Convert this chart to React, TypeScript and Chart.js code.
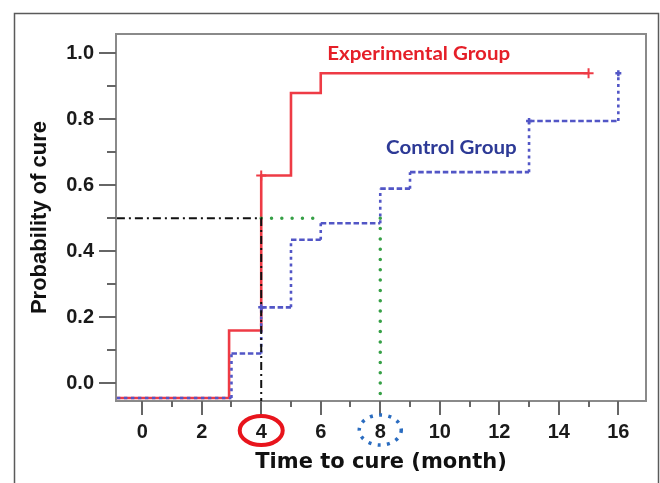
import React, { useEffect, useRef } from 'react';
import { Chart, registerables } from 'chart.js';

Chart.register(...registerables);

// ---- data ----
const experimentalTimes = [-0.85, 2.92, 4, 5, 6, 15];
const experimentalProb = [-0.045, 0.16, 0.63, 0.88, 0.94, 0.94];
const experimentalCensorTimes = [4, 15];
const experimentalCensorProb = [0.63, 0.94];

const controlTimes = [-0.85, 3, 4, 5, 6, 8, 9, 13, 16];
const controlProb = [-0.045, 0.09, 0.23, 0.435, 0.485, 0.59, 0.64, 0.795, 0.94];
const controlCensorTimes = [4, 13, 16];
const controlCensorProb = [0.23, 0.795, 0.94];

const medianLevel = 0.5;
const experimentalMedianTime = 4;
const controlMedianTime = 8;
const guideStartTime = -0.85;
const greenStubEnd = 5.8;

const xMin = -0.88;
const xMax = 16.93;
const yMin = -0.054;
const yMax = 1.059;

const xMajorTicks = [0, 2, 4, 6, 8, 10, 12, 14, 16];
const xMinorTicks = [1, 3, 5, 7, 9, 11, 13, 15];
const xTickLabels = ['0', '2', '4', '6', '8', '10', '12', '14', '16'];
const yMajorTicks = [0, 0.2, 0.4, 0.6, 0.8, 1.0];
const yMinorTicks = [0.1, 0.3, 0.5, 0.7, 0.9];
const yTickLabels = ['0.0', '0.2', '0.4', '0.6', '0.8', '1.0'];

const experimentalLabel = 'Experimental Group';
const controlLabel = 'Control Group';
const experimentalLabelAt = { x: 9.29, y: 0.999 };
const controlLabelAt = { x: 10.39, y: 0.713 };
const xTitle = 'Time to cure (month)';
const yTitle = 'Probability of cure';

// ---- helpers ----
function stepPoints(times: number[], probs: number[]) {
  const pts: { x: number; y: number | null }[] = [];
  for (let i = 0; i < times.length; i++) {
    pts.push({ x: times[i], y: probs[i] });
    if (i + 1 < times.length) pts.push({ x: times[i + 1], y: probs[i] });
  }
  return pts;
}

function pairs(xs: number[], ys: number[]) {
  return xs.map((x, i) => ({ x, y: ys[i] }));
}

const decorPlugin = {
  id: 'decor',
  beforeDatasetsDraw(chart: any) {
    const { ctx, chartArea } = chart;
    const { left, top, right, bottom } = chartArea;
    const xs = chart.scales.x;
    const ys = chart.scales.y;
    ctx.save();
    // outer frame
    ctx.strokeStyle = '#5a5a5a';
    ctx.lineWidth = 1.5;
    ctx.strokeRect(14.5, 13.5, 644, 520);
    // plot box
    ctx.strokeStyle = '#8a8a8a';
    ctx.lineWidth = 2;
    ctx.strokeRect(left, top, right - left, bottom - top);
    // ticks
    ctx.strokeStyle = '#666';
    ctx.lineWidth = 2;
    ctx.beginPath();
    yMajorTicks.forEach((v) => {
      const p = Math.round(ys.getPixelForValue(v));
      ctx.moveTo(left - 17, p);
      ctx.lineTo(left, p);
    });
    yMinorTicks.forEach((v) => {
      const p = Math.round(ys.getPixelForValue(v));
      ctx.moveTo(left - 9, p);
      ctx.lineTo(left, p);
    });
    xMajorTicks.forEach((v) => {
      const p = Math.round(xs.getPixelForValue(v));
      ctx.moveTo(p, bottom);
      ctx.lineTo(p, bottom + 14);
    });
    xMinorTicks.forEach((v) => {
      const p = Math.round(xs.getPixelForValue(v));
      ctx.moveTo(p, bottom);
      ctx.lineTo(p, bottom + 6);
    });
    ctx.stroke();
    ctx.restore();
  },
  afterDraw(chart: any) {
    const { ctx } = chart;
    const xs = chart.scales.x;
    const ys = chart.scales.y;
    ctx.save();
    // highlight ellipses around tick labels 4 and 8
    ctx.strokeStyle = '#e8141c';
    ctx.lineWidth = 4;
    ctx.beginPath();
    ctx.ellipse(xs.getPixelForValue(experimentalMedianTime), 430.5, 21.5, 14.5, 0, 0, Math.PI * 2);
    ctx.stroke();
    ctx.strokeStyle = '#2a6cc0';
    ctx.lineWidth = 3.5;
    ctx.setLineDash([3, 6.3]);
    ctx.beginPath();
    ctx.ellipse(xs.getPixelForValue(controlMedianTime), 430, 21, 15, 0, 0, Math.PI * 2);
    ctx.stroke();
    ctx.setLineDash([]);
    // group labels
    ctx.font = 'bold 18px Lato, "Open Sans", sans-serif';
    ctx.textAlign = 'center';
    ctx.textBaseline = 'middle';
    const w = ctx.measureText(experimentalLabel).width;
    const sx = 183 / w;
    const drawLabel = (text: string, at: { x: number; y: number }, color: string) => {
      const px = xs.getPixelForValue(at.x);
      const py = ys.getPixelForValue(at.y);
      ctx.save();
      ctx.translate(px, py);
      ctx.scale(sx, 1);
      ctx.fillStyle = color;
      ctx.fillText(text, 0, 0);
      ctx.restore();
    };
    drawLabel(experimentalLabel, experimentalLabelAt, '#e51f28');
    drawLabel(controlLabel, controlLabelAt, '#2d3a96');
    ctx.restore();
  },
};

export default function App() {
  const ref = useRef<HTMLCanvasElement | null>(null);
  useEffect(() => {
    if (!ref.current) return;
    const blue = '#5256c6';
    const chart = new Chart(ref.current, {
      type: 'line',
      data: {
        datasets: [
          {
            label: 'Experimental censored',
            data: pairs(experimentalCensorTimes, experimentalCensorProb),
            showLine: false,
            pointStyle: 'cross',
            pointRadius: 5,
            pointBorderWidth: 2,
            borderColor: '#ee3b45',
            backgroundColor: '#ee3b45',
            order: 1,
            clip: false,
          },
          {
            label: 'Control censored',
            data: pairs(controlCensorTimes, controlCensorProb),
            showLine: false,
            pointStyle: 'cross',
            pointRadius: 3,
            pointBorderWidth: 2.5,
            borderColor: blue,
            backgroundColor: blue,
            order: 1,
            clip: false,
          },
          {
            label: 'Median guide',
            data: [
              { x: guideStartTime, y: medianLevel },
              { x: experimentalMedianTime, y: medianLevel },
              { x: experimentalMedianTime, y: yMin },
            ],
            borderColor: '#111',
            borderWidth: 2,
            borderDash: [8, 4, 2, 4],
            pointRadius: 0,
            order: 2,
            clip: false,
          },
          {
            label: 'Control median',
            data: [
              { x: experimentalMedianTime, y: medianLevel },
              { x: greenStubEnd, y: medianLevel },
              { x: greenStubEnd, y: null },
              { x: controlMedianTime, y: medianLevel },
              { x: controlMedianTime, y: yMin },
            ],
            borderColor: '#36a046',
            borderWidth: 3.5,
            borderDash: [0, 10.3],
            borderCapStyle: 'round',
            pointRadius: 0,
            spanGaps: false,
            order: 3,
            clip: false,
          },
          {
            label: 'Control Group',
            data: stepPoints(controlTimes, controlProb),
            borderColor: blue,
            borderWidth: 2.6,
            pointRadius: 0,
            order: 4,
            clip: false,
            segment: {
              borderDash: (c: any) =>
                c.p0.parsed.x === c.p1.parsed.x
                  ? [3, 3.8]
                  : c.p0DataIndex === 0
                  ? [3.5, 3.5]
                  : [5.5, 2.7],
            },
          },
          {
            label: 'Experimental Group',
            data: stepPoints(experimentalTimes, experimentalProb),
            borderColor: '#ee3b45',
            borderWidth: 2.6,
            pointRadius: 0,
            order: 5,
            clip: false,
          },
        ],
      },
      options: {
        animation: false,
        responsive: false,
        devicePixelRatio: 1,
        layout: { padding: { left: 0, top: 28, right: 14, bottom: 0 } },
        plugins: { legend: { display: false }, tooltip: { enabled: false } },
        scales: {
          x: {
            type: 'linear',
            min: xMin,
            max: xMax,
            afterBuildTicks: (s: any) => {
              s.ticks = xMajorTicks.map((v) => ({ value: v }));
            },
            afterFit: (s: any) => {
              s.height = 82;
            },
            grid: { display: false, drawTicks: false },
            border: { display: false },
            ticks: {
              autoSkip: false,
              maxRotation: 0,
              padding: 19,
              color: '#1a1a1a',
              font: { family: '"Liberation Sans", Arial, sans-serif', weight: 'bold', size: 20 },
              callback: (v: any) => {
                const i = xMajorTicks.indexOf(Number(v));
                return i >= 0 ? xTickLabels[i] : '';
              },
            },
            title: {
              display: true,
              text: xTitle,
              color: '#111',
              font: { family: '"DejaVu Sans", sans-serif', weight: 'bold', size: 21 },
              padding: { top: 0, bottom: 7.4 },
            },
          },
          y: {
            type: 'linear',
            min: yMin,
            max: yMax,
            afterBuildTicks: (s: any) => {
              s.ticks = yMajorTicks.map((v) => ({ value: v }));
            },
            afterFit: (s: any) => {
              s.width = 116;
            },
            grid: { display: false, drawTicks: false },
            border: { display: false },
            ticks: {
              autoSkip: false,
              padding: 22,
              color: '#1a1a1a',
              font: { family: '"Liberation Sans", Arial, sans-serif', weight: 'bold', size: 20 },
              callback: (v: any) => {
                const i = yMajorTicks.findIndex((t) => Math.abs(t - Number(v)) < 1e-6);
                return i >= 0 ? yTickLabels[i] : '';
              },
            },
            title: {
              display: true,
              text: yTitle,
              color: '#111',
              font: { family: '"Liberation Sans", Arial, sans-serif', weight: 'bold', size: 22 },
              padding: { top: 26.8, bottom: 0 },
            },
          },
        },
      },
      plugins: [decorPlugin],
    } as any);
    return () => chart.destroy();
  }, []);

  return (
    <div style={{ position: 'fixed', left: 0, top: 0, width: 660, height: 483, background: '#fff' }}>
      <canvas ref={ref} width={660} height={483} style={{ display: 'block', width: 660, height: 483 }} />
    </div>
  );
}
